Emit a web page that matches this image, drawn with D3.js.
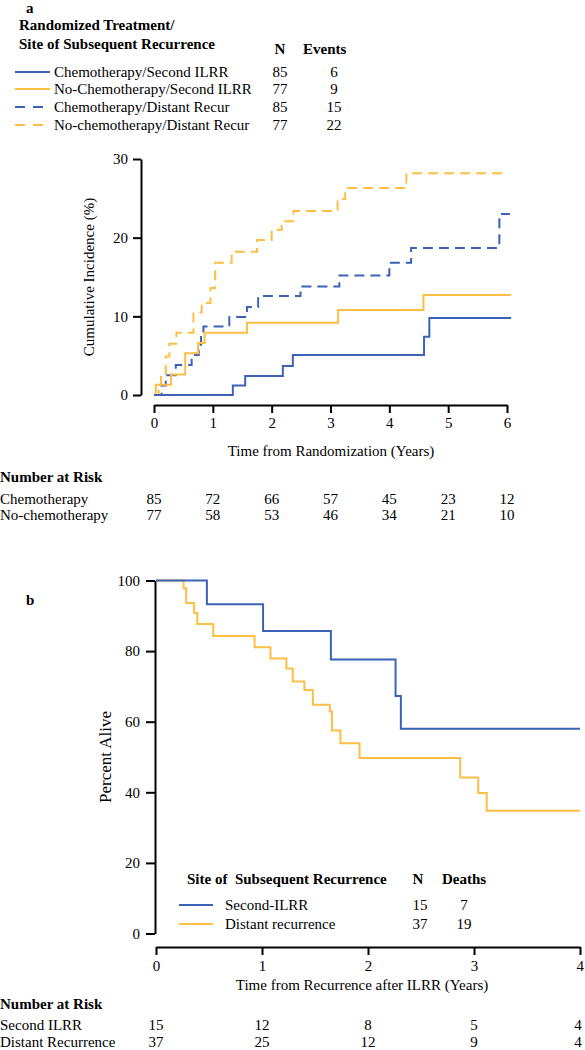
<!DOCTYPE html>
<html>
<head>
<meta charset="utf-8">
<script src="https://cdn.jsdelivr.net/npm/d3@7"></script>
<style>
  html, body { margin: 0; padding: 0; background: #fff; }
  svg { display: block; font-family: "Liberation Serif", "DejaVu Serif", serif; }
</style>
</head>
<body>
<svg id="chart" width="585" height="1050"></svg>
<script>
// ---------- Panel a data ----------
const aXTicks = [0, 1, 2, 3, 4, 5, 6];
const aYTicks = [0, 10, 20, 30];
const aSeriesNames = ["Chemotherapy/Second ILRR", "No-Chemotherapy/Second ILRR", "Chemotherapy/Distant Recur", "No-chemotherapy/Distant Recur"];
const aSeriesN = [85, 77, 85, 77];
const aSeriesEvents = [6, 9, 15, 22];
const chemoILRR = [[0,0],[1.34,1.2],[1.55,2.4],[2.19,3.7],[2.36,5.1],[4.59,7.4],[4.68,9.8],[6.07,9.8]];
const noChemoILRR = [[0,0],[0.03,1.3],[0.29,2.6],[0.53,5.3],[0.75,6.6],[0.86,7.9],[1.58,9.2],[3.13,10.8],[4.58,12.7],[6.07,12.7]];
const chemoDistant = [[0,0],[0.13,1.2],[0.2,2.5],[0.37,3.8],[0.64,5.1],[0.76,6.4],[0.8,7.5],[0.84,8.7],[1.28,9.9],[1.58,11.2],[1.77,12.6],[2.49,13.8],[3.15,15.2],[4.0,16.8],[4.37,18.7],[5.87,23.0],[6.05,23.0]];
const noChemoDistant = [[0,0],[0.08,1.3],[0.12,2.6],[0.2,4.9],[0.26,6.5],[0.38,7.9],[0.67,10.5],[0.81,11.7],[0.96,13.6],[1.04,16.8],[1.32,18.2],[1.75,19.7],[2.0,21.0],[2.17,22.1],[2.37,23.4],[3.12,24.9],[3.25,26.3],[4.29,28.2],[6.0,28.2]];
const aRiskLabels = ["Chemotherapy", "No-chemotherapy"];
const aRiskChemo = [85, 72, 66, 57, 45, 23, 12];
const aRiskNoChemo = [77, 58, 53, 46, 34, 21, 10];

// ---------- Panel b data ----------
const bXTicks = [0, 1, 2, 3, 4];
const bYTicks = [0, 20, 40, 60, 80, 100];
const bSeriesNames = ["Second-ILRR", "Distant recurrence"];
const bSeriesN = [15, 37];
const bSeriesDeaths = [7, 19];
const secondILRR = [[0,100],[0.48,93.3],[1.01,85.7],[1.65,77.6],[2.26,67.3],[2.31,58.0],[4.0,58.0]];
const distantRec = [[0,100],[0.26,97.8],[0.285,93.6],[0.36,90.8],[0.39,87.7],[0.54,84.3],[0.93,81.1],[1.08,77.9],[1.23,75.1],[1.29,71.4],[1.40,69.0],[1.48,64.8],[1.64,62.9],[1.66,57.5],[1.74,53.9],[1.92,49.7],[2.87,44.2],[3.04,39.8],[3.12,34.8],[4.0,34.8]];
const bRiskLabels = ["Second ILRR", "Distant Recurrence"];
const bRiskILRR = [15, 12, 8, 5, 4];
const bRiskDistant = [37, 25, 12, 9, 4];

const BLUE = "#3a63b8";
const ORANGE = "#fcbf44";
const FS = 15;

const svg = d3.select("#chart");

function styleAxis(g) {
  g.selectAll("path.domain").attr("stroke", "#000").attr("stroke-width", 2);
  g.selectAll(".tick line").attr("stroke", "#000").attr("stroke-width", 2);
  g.selectAll(".tick text").attr("font-family", "Liberation Serif").attr("font-size", FS).attr("fill", "#000");
}

// ================= Panel a =================
const ax = d3.scaleLinear().domain([0, 6]).range([154, 507]);
const ay = d3.scaleLinear().domain([0, 30]).range([395, 159]);

svg.append("text").attr("x", 26).attr("y", 13).attr("font-weight", "bold").attr("font-size", FS).text("a");
svg.append("text").attr("x", 19).attr("y", 30).attr("font-weight", "bold").attr("font-size", FS).text("Randomized Treatment/");
svg.append("text").attr("x", 19).attr("y", 49).attr("font-weight", "bold").attr("font-size", FS).text("Site of Subsequent Recurrence");
svg.append("text").attr("x", 280).attr("y", 54).attr("text-anchor", "middle").attr("font-weight", "bold").attr("font-size", FS).text("N");
svg.append("text").attr("x", 303).attr("y", 54).attr("font-weight", "bold").attr("font-size", FS).text("Events");

const aColors = [BLUE, ORANGE, BLUE, ORANGE];
const aDash = [null, null, "10,8", "10,8"];
const aRowY = [77, 94, 112, 130];
aSeriesNames.forEach((name, i) => {
  const y = aRowY[i];
  svg.append("line").attr("x1", 15).attr("x2", 50).attr("y1", y - 5).attr("y2", y - 5)
    .attr("stroke", aColors[i]).attr("stroke-width", 2.2).attr("stroke-dasharray", aDash[i]);
  svg.append("text").attr("x", 54).attr("y", y).attr("font-size", FS).text(name);
  svg.append("text").attr("x", 280).attr("y", y).attr("text-anchor", "middle").attr("font-size", FS).text(aSeriesN[i]);
  svg.append("text").attr("x", 334).attr("y", y).attr("text-anchor", "middle").attr("font-size", FS).text(aSeriesEvents[i]);
});

const aYAxis = svg.append("g").attr("transform", "translate(141,0)")
  .call(d3.axisLeft(ay).tickValues(aYTicks).tickFormat(d3.format("d")).tickSize(8).tickSizeOuter(0).tickPadding(5));
styleAxis(aYAxis);
const aXAxis = svg.append("g").attr("transform", "translate(0,405)")
  .call(d3.axisBottom(ax).tickValues(aXTicks).tickFormat(d3.format("d")).tickSize(8).tickSizeOuter(0).tickPadding(4));
styleAxis(aXAxis);

svg.append("text").attr("transform", "translate(94,277) rotate(-90)").attr("text-anchor", "middle")
  .attr("font-size", FS).text("Cumulative Incidence (%)");
svg.append("text").attr("x", 331).attr("y", 456).attr("text-anchor", "middle").attr("font-size", FS)
  .text("Time from Randomization (Years)");

const aLine = d3.line().x(d => ax(d[0])).y(d => ay(d[1])).curve(d3.curveStepAfter);
[[noChemoDistant, ORANGE, "10,6"], [chemoDistant, BLUE, "10,6"], [noChemoILRR, ORANGE, null], [chemoILRR, BLUE, null]]
  .forEach(([data, color, dash]) => {
    svg.append("path").datum(data).attr("d", aLine).attr("fill", "none")
      .attr("stroke", color).attr("stroke-width", 2).attr("stroke-dasharray", dash);
  });

svg.append("text").attr("x", 0).attr("y", 482).attr("font-weight", "bold").attr("font-size", FS).text("Number at Risk");
[[aRiskChemo, 504], [aRiskNoChemo, 520]].forEach(([row, y], r) => {
  svg.append("text").attr("x", 0).attr("y", y).attr("font-size", FS).text(aRiskLabels[r]);
  svg.selectAll(null).data(row).enter().append("text")
    .attr("x", (d, i) => ax(aXTicks[i])).attr("y", y).attr("text-anchor", "middle")
    .attr("font-size", FS).text(d => d);
});

// ================= Panel b =================
const bx = d3.scaleLinear().domain([0, 4]).range([156, 580]);
const by = d3.scaleLinear().domain([0, 100]).range([933.5, 580.5]);

svg.append("text").attr("x", 26).attr("y", 605).attr("font-weight", "bold").attr("font-size", FS).text("b");

const bYAxis = svg.append("g").attr("transform", "translate(155,0)")
  .call(d3.axisLeft(by).tickValues(bYTicks).tickFormat(d3.format("d")).tickSize(9).tickSizeOuter(0).tickPadding(6));
styleAxis(bYAxis);
const bXAxis = svg.append("g").attr("transform", "translate(0,947)")
  .call(d3.axisBottom(bx).tickValues(bXTicks).tickFormat(d3.format("d")).tickSize(8).tickSizeOuter(0).tickPadding(5));
styleAxis(bXAxis);
// keep the last tick label inside the picture
bXAxis.selectAll(".tick text").filter(d => d === 4).attr("text-anchor", "end").attr("dx", "3.5");

svg.append("text").attr("transform", "translate(111,757) rotate(-90)").attr("text-anchor", "middle")
  .attr("font-size", 17).text("Percent Alive");
svg.append("text").attr("x", 362).attr("y", 990).attr("text-anchor", "middle").attr("font-size", FS)
  .text("Time from Recurrence after ILRR (Years)");

const bLine = d3.line().x(d => bx(d[0])).y(d => by(d[1])).curve(d3.curveStepAfter);
[[distantRec, ORANGE], [secondILRR, BLUE]].forEach(([data, color]) => {
  svg.append("path").datum(data).attr("d", bLine).attr("fill", "none")
    .attr("stroke", color).attr("stroke-width", 2);
});

svg.append("text").attr("x", 187).attr("y", 884).attr("font-weight", "bold").attr("font-size", FS)
  .attr("xml:space", "preserve").style("white-space", "pre").text("Site of  Subsequent Recurrence");
svg.append("text").attr("x", 418).attr("y", 884).attr("text-anchor", "middle").attr("font-weight", "bold").attr("font-size", FS).text("N");
svg.append("text").attr("x", 442).attr("y", 884).attr("font-weight", "bold").attr("font-size", FS).text("Deaths");
const bColors = [BLUE, ORANGE];
const bRowY = [910, 929];
bSeriesNames.forEach((name, i) => {
  const y = bRowY[i];
  svg.append("line").attr("x1", 179).attr("x2", 213).attr("y1", y - 5).attr("y2", y - 5)
    .attr("stroke", bColors[i]).attr("stroke-width", 2.2);
  svg.append("text").attr("x", 225).attr("y", y).attr("font-size", FS).text(name);
  svg.append("text").attr("x", 420).attr("y", y).attr("text-anchor", "middle").attr("font-size", FS).text(bSeriesN[i]);
  svg.append("text").attr("x", 464).attr("y", y).attr("text-anchor", "middle").attr("font-size", FS).text(bSeriesDeaths[i]);
});

svg.append("text").attr("x", 0).attr("y", 1009).attr("font-weight", "bold").attr("font-size", FS).text("Number at Risk");
[[bRiskILRR, 1030], [bRiskDistant, 1047]].forEach(([row, y], r) => {
  svg.append("text").attr("x", 0).attr("y", y).attr("font-size", FS).text(bRiskLabels[r]);
  svg.selectAll(null).data(row).enter().append("text")
    .attr("x", (d, i) => Math.min(bx(bXTicks[i]), 578)).attr("y", y).attr("text-anchor", "middle")
    .attr("font-size", FS).text(d => d);
});
</script>
</body>
</html>
